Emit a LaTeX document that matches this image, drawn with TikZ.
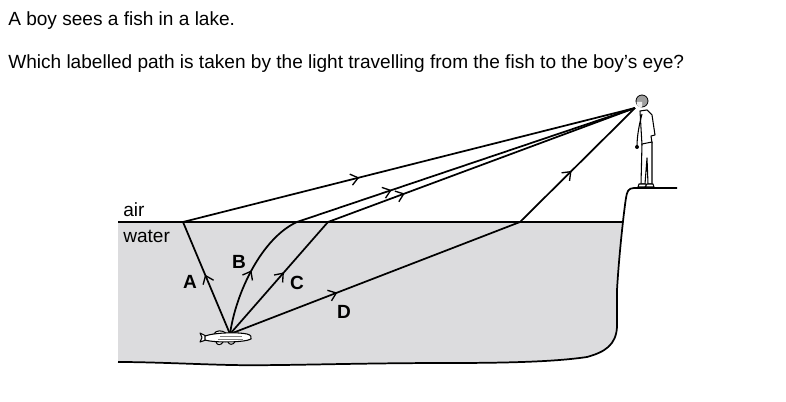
\documentclass[tikz,border=0pt]{standalone}
\usepackage{fontspec}
\setmainfont{Liberation Sans}
\usetikzlibrary{arrows.meta,decorations.markings}
\definecolor{lakegray}{RGB}{220,220,222}
\tikzstyle{txt} = [font=\fontsize{14.3}{17}\selectfont, inner sep=0pt, anchor=base west]
\tikzstyle{letter} = [font=\fontsize{14.3}{17}\selectfont\bfseries, inner sep=0pt]
\tikzstyle{ray} = [draw, line width=1.3pt]
\tikzstyle{edge} = [draw, line width=1.3pt, line join=round]
\tikzstyle{outline} = [draw, fill=white, line width=0.8pt, line join=round]
\tikzset{arrowat/.style={postaction={decorate}, decoration={markings, mark=at position #1 with {\arrow{Straight Barb[length=5.5pt,width=8.5pt,line width=1pt]}}}}}

\begin{document}
\begin{tikzpicture}[x=0.75pt, y=-0.75pt]
        \useasboundingbox (0,0) rectangle (786,402);
        \node[txt] (line1) at (8,26) {A boy sees a fish in a lake.};
        \node[txt] (line2) at (8,69) {Which labelled path is taken by the light travelling from the fish to the boy’s eye?};
        \fill[lakegray] (118,222) -- (622,222) .. controls (619,255) and (617,290) .. (617,327) .. controls (616,345) and (605,352) .. (587,357) .. controls (560,361) and (520,363) .. (450,363) .. controls (350,363) and (280,366) .. (230,365) .. controls (190,364) and (150,362) .. (118,362) -- cycle;
        \path[edge] (677,188) -- (634,188) .. controls (628,188) and (627,192) .. (626,198) .. controls (624,210) and (619,255) .. (617,290) -- (617,327) .. controls (616,345) and (605,352) .. (587,357) .. controls (560,361) and (520,363) .. (450,363) .. controls (350,363) and (280,366) .. (230,365) .. controls (190,364) and (150,362) .. (118,362);
        \path[edge] (118,222) -- (622,222);
        \node[txt] (air) at (123,217) {air};
        \node[txt] (water) at (123,243) {water};
        \coordinate (fish) at (230,334);
        \coordinate (eye) at (635,108);
        \coordinate (surfA) at (183,222);
        \coordinate (surfB) at (297,222);
        \coordinate (surfC) at (328,222);
        \coordinate (surfD) at (520,222);
        \path[ray, arrowat=0.53] (fish) -- (surfA);
        \path[ray, arrowat=0.39] (surfA) -- (eye);
        \path[ray, arrowat=0.5] (fish) .. controls (236,292) and (262,238) .. (surfB);
        \path[ray, arrowat=0.28] (surfB) -- (eye);
        \path[ray, arrowat=0.55] (fish) -- (surfC);
        \path[ray, arrowat=0.25] (surfC) -- (eye);
        \path[ray, arrowat=0.37] (fish) -- (surfD);
        \path[ray, arrowat=0.45] (surfD) -- (eye);
        \node[letter] (labA) at (190,282) {A};
        \node[letter] (labB) at (239,262) {B};
        \node[letter] (labC) at (297,283) {C};
        \node[letter] (labD) at (344,312) {D};
        \path[outline] (200,333) -- (206,336) -- (206,340) -- (200,342) -- (202,337.5) -- cycle;
        \path[outline] (214,334) .. controls (216,330) and (222,330) .. (226,333);
        \path[outline] (216,342) .. controls (217,345.5) and (221,345.5) .. (223,342);
        \path[outline] (228,342) .. controls (229,345) and (233,345) .. (235,342);
        \path[outline] (205,336) .. controls (215,332.5) and (238,332) .. (247,334) .. controls (251,335) and (252,337) .. (251,339) .. controls (245,342.5) and (215,343) .. (205,340) -- cycle;
        \draw[gray, line width=0.6pt] (220,336) -- (242,336) (218,339) -- (243,339);
        \path[outline] (640,111) -- (647,110) -- (652,115) -- (655,135) -- (651,136) -- (652,143) -- (642,145) -- (641,128) -- cycle;
        \path[draw, line width=0.8pt] (642,114) .. controls (639,125) and (637,137) .. (637,146);
        \fill (637,147) circle (2);
        \path[outline] (642,144) -- (652,142) -- (652,184) -- (648,184) -- (647,158) -- (645,184) -- (641,184) -- cycle;
        \path[outline] (639,184) -- (646,184) -- (647,187) -- (638,187) -- cycle;
        \path[outline] (647,184) -- (653,184) -- (654,187) -- (645,187) -- cycle;
        \path[draw, fill=gray!75, line width=0.6pt] (642,101) circle (6);
        \path[fill=white!85!gray] (636.5,102) .. controls (636.5,106) and (638.5,107.5) .. (642,107.5) -- (642,102) -- cycle;
\end{tikzpicture}
\end{document}
